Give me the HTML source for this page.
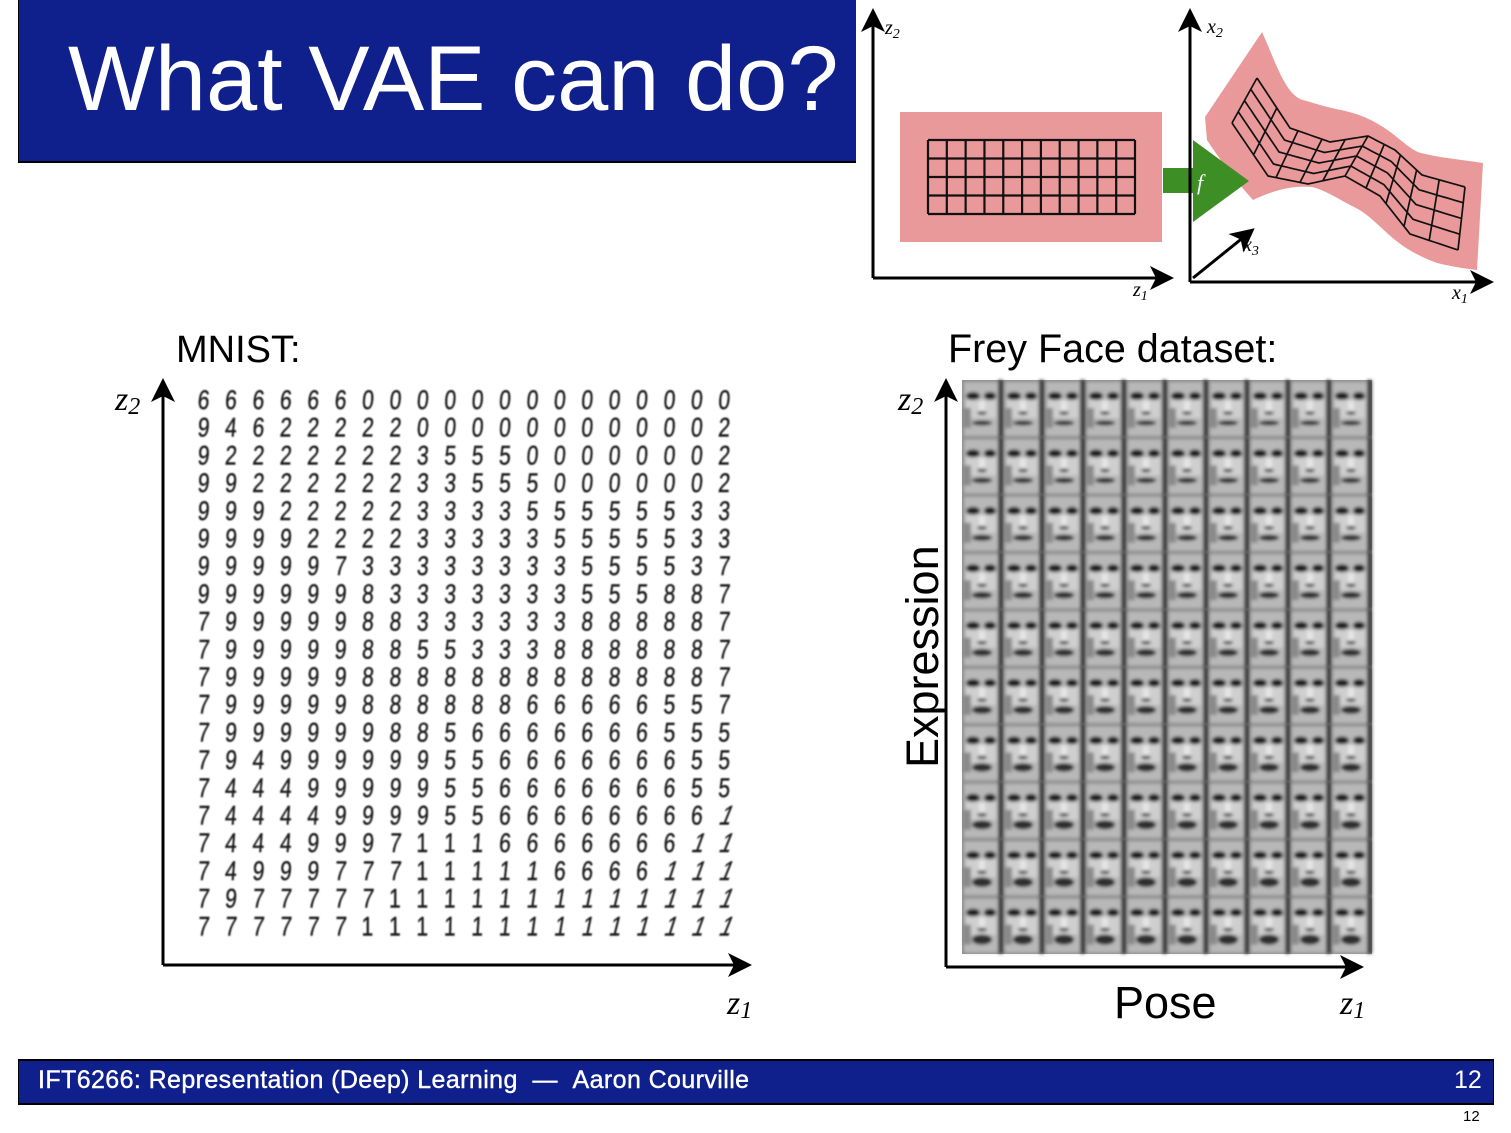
<!DOCTYPE html>
<html><head><meta charset="utf-8"><style>
body{margin:0;background:#fff;width:1511px;height:1133px;overflow:hidden;position:relative;font-family:"Liberation Sans",sans-serif}
.abs{position:absolute}
</style></head><body>
<div class="abs" style="left:18px;top:0;width:837px;height:161px;background:#0f1f8c;border-bottom:2px solid #000;border-left:1px solid #000"></div>
<div class="abs" style="left:68px;top:24px;color:#fff;font-size:92px;line-height:110px;white-space:nowrap">What VAE can do?</div>

<svg class="abs" style="left:0;top:0" width="1511" height="1133">
<defs>
<marker id="ah" markerWidth="8" markerHeight="8" refX="6" refY="4" orient="auto"><path d="M0,0 L8,4 L0,8 L2,4z" fill="#000"/></marker>
<filter id="bl"><feGaussianBlur stdDeviation="0.7"/></filter>
<filter id="bl2"><feGaussianBlur stdDeviation="1.6"/></filter>
</defs>
<g>
<line x1="873" y1="278" x2="873" y2="14" stroke="#000" stroke-width="3" marker-end="url(#ah)"/>
<line x1="873" y1="278" x2="1168" y2="278" stroke="#000" stroke-width="3" marker-end="url(#ah)"/>
<rect x="900" y="112" width="262" height="130" fill="#e9999a"/>
<g id="flatgrid" stroke="#111" stroke-width="2.2" fill="none"></g>
<path d="M1205,117 L1262,32 C1275,60 1285,95 1303,100 C1320,105 1330,108 1341,110 C1360,114 1372,120 1383,127 C1400,138 1410,150 1421,153 C1440,158 1465,160 1483,163 L1477,270 C1460,268 1450,266 1437,263 C1415,255 1400,245 1387,233 C1375,222 1365,212 1354,207 C1340,200 1325,190 1312,187 C1290,185 1270,192 1253,200 C1235,180 1220,160 1207,140 Z" fill="#e9999a"/>
<g id="warpgrid" stroke="#111" stroke-width="1.7" fill="none"></g>
<path d="M1163,168 H1193 V140 L1249,181 L1193,222 V193 H1163Z" fill="#3e8e26"/>
<text x="1197" y="190" fill="#fff" font-family="Liberation Serif" font-style="italic" font-size="22">f</text>
<line x1="1190" y1="282" x2="1190" y2="14" stroke="#000" stroke-width="3" marker-end="url(#ah)"/>
<line x1="1190" y1="282" x2="1488" y2="282" stroke="#000" stroke-width="3" marker-end="url(#ah)"/>
<line x1="1193" y1="278" x2="1250" y2="232" stroke="#000" stroke-width="3" marker-end="url(#ah)"/>
<g font-family="Liberation Serif" font-style="italic" font-size="20" fill="#000">
<text x="885" y="34">z<tspan font-size="14" dy="4">2</tspan></text>
<text x="1133" y="296">z<tspan font-size="14" dy="4">1</tspan></text>
<text x="1207" y="33">x<tspan font-size="14" dy="4">2</tspan></text>
<text x="1243" y="251">x<tspan font-size="14" dy="4">3</tspan></text>
<text x="1452" y="299">x<tspan font-size="14" dy="4">1</tspan></text>
</g>
</g>

<text x="176" y="362" font-size="38">MNIST:</text>
<line x1="163" y1="965" x2="163" y2="384" stroke="#000" stroke-width="3" marker-end="url(#ah)"/>
<line x1="163" y1="965" x2="746" y2="965" stroke="#000" stroke-width="3" marker-end="url(#ah)"/>
<g font-family="Liberation Serif" font-style="italic" font-size="34">
<text x="115" y="410">z<tspan font-size="24" dy="4">2</tspan></text>
<text x="727" y="1014">z<tspan font-size="24" dy="4">1</tspan></text>
<text x="898" y="410">z<tspan font-size="24" dy="4">2</tspan></text>
<text x="1340" y="1014">z<tspan font-size="24" dy="4">1</tspan></text>
</g>
<g id="mnist" filter="url(#bl)" font-family="Liberation Sans" font-size="27" fill="#1a1a1a" stroke="#1a1a1a" stroke-width="0.4" text-anchor="middle"></g>

<text x="948" y="362" font-size="39.5">Frey Face dataset:</text>
<g id="faces"></g>
<line x1="946" y1="967" x2="946" y2="384" stroke="#000" stroke-width="3" marker-end="url(#ah)"/>
<line x1="946" y1="967" x2="1358" y2="967" stroke="#000" stroke-width="3" marker-end="url(#ah)"/>
<text transform="translate(938,768) rotate(-90)" font-size="45">Expression</text>
<text x="1114" y="1018" font-size="45">Pose</text>
</svg>

<div class="abs" style="left:18px;top:1059px;width:1474px;height:42px;background:#0f1f8c;border:1px solid #000;border-top:2px solid #000;border-bottom:2px solid #000"></div>
<div class="abs" style="left:38px;top:1066px;color:#fff;font-size:25px;letter-spacing:0.4px;white-space:nowrap;-webkit-text-stroke:0.4px #fff">IFT6266: Representation (Deep) Learning &nbsp;— &nbsp;Aaron Courville</div>
<div class="abs" style="left:1454px;top:1066px;color:#fff;font-size:25px">12</div>
<div class="abs" style="left:1463px;top:1108px;font-size:15px">12</div>

<script>
const rows=[
"66666600000000000000",
"94622222000000000002",
"92222222355500000002",
"99222222335550000002",
"99922222333355555533",
"99992222333335555533",
"99999733333333555537",
"99999983333333555887",
"79999988333333888887",
"79999988553338888887",
"79999988888888888887",
"79999988888866666557",
"79999998856666666555",
"79499999955666666655",
"74449999955666666655",
"74444999955666666661",
"74449997111666666611",
"74999777111116666111",
"79777771111111111111",
"77777711111111111111"];
const NS="http://www.w3.org/2000/svg";
const g=document.getElementById('mnist');
const x0=203,y0=399,dx=27.4,dy=27.7;
rows.forEach((r,i)=>{[...r].forEach((d,j)=>{
 const t=document.createElementNS(NS,'text');
 
 
 const sk = d==='1' ? -Math.max(0,j-8)*2.5 : -6;
 t.setAttribute('transform',`translate(${x0+j*dx},${y0+i*dy+10}) scale(0.78,1) skewX(${sk})`);
 t.textContent=d;g.appendChild(t);});});
const fg=document.getElementById('flatgrid');
let s='';
for(let c=0;c<=11;c++){const x=928+c*207/11;s+=`M${x},140V214`;}
for(let r=0;r<=4;r++){const y=140+r*74/4;s+=`M928,${y}H1135`;}
const p=document.createElementNS(NS,'path');p.setAttribute('d',s);


fg.appendChild(p);
const topC=[[1257,78],[1290,128],[1330,142],[1368,136],[1395,150],[1422,175],[1465,187]];
const botC=[[1232,123],[1268,176],[1308,184],[1345,176],[1380,196],[1410,234],[1458,250]];
function at(c,u){const f=u*(c.length-1),i=Math.min(c.length-2,Math.floor(f)),t=f-i;return [c[i][0]+(c[i+1][0]-c[i][0])*t,c[i][1]+(c[i+1][1]-c[i][1])*t];}
function pt(u,v){const a=at(topC,u),b=at(botC,u);return [a[0]+(b[0]-a[0])*v,a[1]+(b[1]-a[1])*v];}
let w='';
for(let k=0;k<=4;k++){w+='M';for(let n=0;n<=60;n++){const q=pt(n/60,k/4);w+=(n?'L':'')+q[0].toFixed(1)+','+q[1].toFixed(1);}}
for(let j=0;j<=10;j++){const a=pt(j/10,0),b=pt(j/10,1);w+=`M${a[0]},${a[1]}L${b[0]},${b[1]}`;}
const wp=document.createElementNS(NS,'path');wp.setAttribute('d',w);


document.getElementById('warpgrid').appendChild(wp);
const fc=document.getElementById('faces');
let h='<rect x="962" y="380" width="410" height="574" fill="#8f8f8f"/>';
for(let i=0;i<10;i++)for(let j=0;j<10;j++){
 const x=962+j*41,y=380+i*57.4;
 h+=`<g filter="url(#bl2)"><rect x="${x+2}" y="${y+2}" width="35" height="54" fill="#b8b8b8"/><rect x="${x+4}" y="${y+20}" width="30" height="18" fill="#cfcfcf"/><rect x="${x+36}" y="${y}" width="5" height="57" fill="#3a3a3a"/>
 <ellipse cx="${x+11}" cy="${y+16}" rx="7" ry="4" fill="#1e1e1e"/><ellipse cx="${x+28}" cy="${y+16}" rx="6" ry="4" fill="#1e1e1e"/>
 <rect x="${x+17}" y="${y+21}" width="6" height="12" fill="#e6e6e6"/><ellipse cx="${x+20}" cy="${y+33}" rx="5" ry="2" fill="#555"/>
 <ellipse cx="${x+20}" cy="${y+43}" rx="10" ry="${2.5+i*0.3}" fill="#2e2e2e"/><rect x="${x+2}" y="${y+28}" width="7" height="20" fill="#8a8a8a"/></g>`;}
fc.innerHTML=h;
</script>
</body></html>
